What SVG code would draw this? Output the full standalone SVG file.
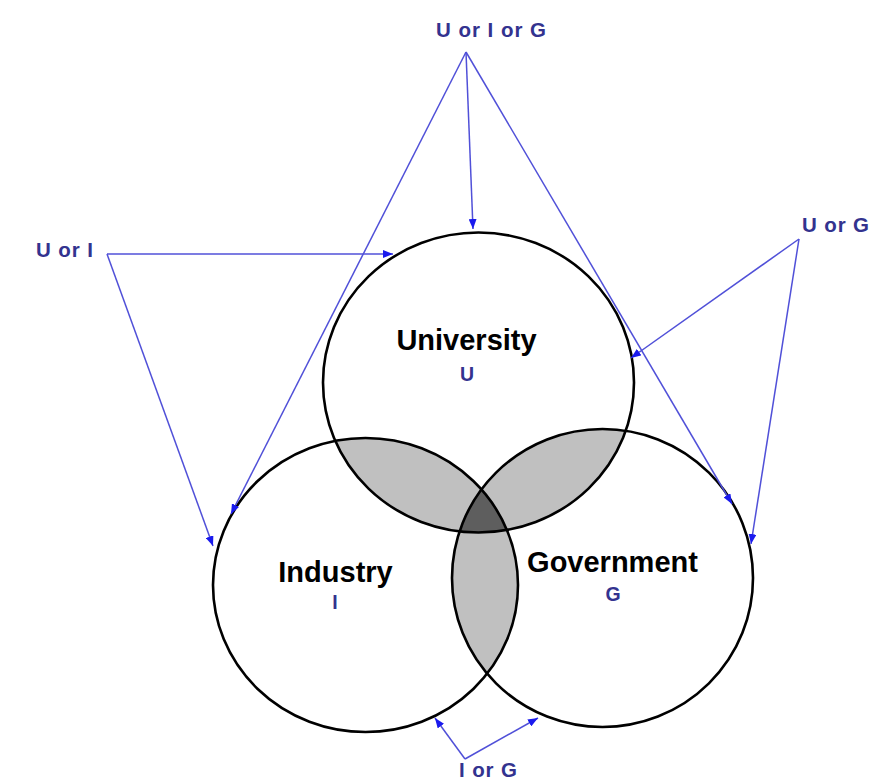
<svg xmlns="http://www.w3.org/2000/svg" width="889" height="780" viewBox="0 0 889 780">
  <style>
    .ring { fill: none; stroke: #000; stroke-width: 2.6; }
    .name { font-family: "Liberation Sans", Arial, sans-serif; font-weight: bold; font-size: 29px; fill: #000; text-anchor: middle; }
    .tag { font-family: "Liberation Sans", Arial, sans-serif; font-weight: bold; font-size: 19.5px; fill: #33338f; text-anchor: middle; }
    .lbl { font-family: "Liberation Sans", Arial, sans-serif; font-weight: bold; font-size: 20.5px; fill: #33338f; }
    .link { fill: none; stroke: #5050d8; stroke-width: 1.5; marker-end: url(#head); }
  </style>
  <defs>
    <ellipse id="shapeU" cx="478.5" cy="382.5" rx="155.5" ry="150"/>
    <ellipse id="shapeI" cx="365.5" cy="585" rx="152.5" ry="147"/>
    <ellipse id="shapeG" cx="602.5" cy="578" rx="150.5" ry="149"/>
    <clipPath id="clipU"><use href="#shapeU"/></clipPath>
    <clipPath id="clipI"><use href="#shapeI"/></clipPath>
    <clipPath id="clipG"><use href="#shapeG"/></clipPath>
    <marker id="head" viewBox="0 0 10 8" refX="10" refY="4" markerWidth="10" markerHeight="8" markerUnits="userSpaceOnUse" orient="auto">
      <path d="M0,0 L10,4 L0,8 z" fill="#1a1aee"/>
    </marker>
  </defs>

  <rect width="889" height="780" fill="#fff"/>

  <!-- pairwise and triple overlaps -->
  <g id="overlaps">
    <use href="#shapeI" fill="#c0c0c0" clip-path="url(#clipU)"/>
    <use href="#shapeG" fill="#c0c0c0" clip-path="url(#clipU)"/>
    <use href="#shapeG" fill="#c0c0c0" clip-path="url(#clipI)"/>
    <g clip-path="url(#clipU)">
      <use href="#shapeG" fill="#5e5e5e" clip-path="url(#clipI)"/>
    </g>
  </g>

  <g id="university">
    <use href="#shapeU" class="ring"/>
    <text class="name" x="466.5" y="350">University</text>
    <text class="tag" x="467" y="381">U</text>
  </g>
  <g id="industry">
    <use href="#shapeI" class="ring"/>
    <text class="name" x="335.5" y="582">Industry</text>
    <text class="tag" x="335" y="609">I</text>
  </g>
  <g id="government">
    <use href="#shapeG" class="ring"/>
    <text class="name" x="612.5" y="572">Government</text>
    <text class="tag" x="613" y="601">G</text>
  </g>

  <g id="label-uig"><text class="lbl" x="436" y="37" textLength="110" lengthAdjust="spacing">U or I or G</text></g>
  <g id="label-ui"><text class="lbl" x="36" y="257" textLength="57" lengthAdjust="spacing">U or I</text></g>
  <g id="label-ug"><text class="lbl" x="802" y="232" textLength="67" lengthAdjust="spacing">U or G</text></g>
  <g id="label-ig"><text class="lbl" x="459" y="777" textLength="58" lengthAdjust="spacing">I or G</text></g>

  <g id="connectors">
    <path class="link" d="M466,52 L231,514"/>
    <path class="link" d="M466,52 L473,229"/>
    <path class="link" d="M466,52 L732,504"/>
    <path class="link" d="M107,254 L393,254"/>
    <path class="link" d="M107,254 L213,546"/>
    <path class="link" d="M799,239 L631,358"/>
    <path class="link" d="M799,239 L751,544"/>
    <path class="link" d="M465,759 L435,718"/>
    <path class="link" d="M465,759 L538,718"/>
  </g>
</svg>
